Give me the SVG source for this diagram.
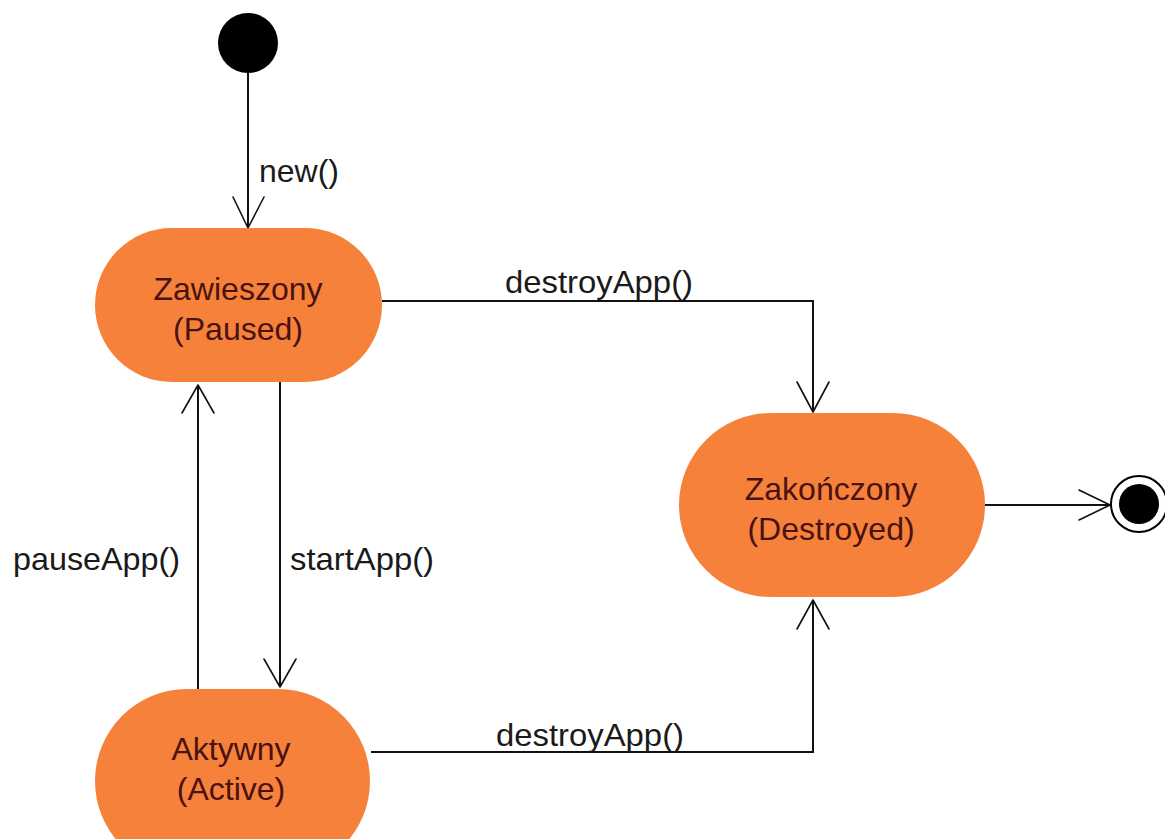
<svg xmlns="http://www.w3.org/2000/svg" width="1165" height="839" viewBox="0 0 1165 839">
<defs>
<style>
.state{fill:#F6813A;}
.st{font-family:"Liberation Sans",Arial,sans-serif;font-size:32px;fill:#4a1212;text-anchor:middle;}
.lbl{font-family:"Liberation Sans",Arial,sans-serif;font-size:32px;fill:#1a1a1a;}
.edge{fill:none;stroke:#111;stroke-width:2;}
.head{fill:none;stroke:#111;stroke-width:1.6;stroke-linecap:round;stroke-linejoin:round;}
</style>
</defs>
<rect width="1165" height="839" fill="#ffffff"/>
<g id="connectors">
  <g id="e-new">
    <line class="edge" x1="248" y1="72" x2="248" y2="228"/>
    <polyline class="head" points="233,197 248,228 264,197"/>
    <text class="lbl" x="259" y="182">new()</text>
  </g>
  <g id="e-destroy1">
    <polyline class="edge" points="382,301 813,301 813,412"/>
    <polyline class="head" points="797,382 813,412 829,382"/>
    <text class="lbl" x="505" y="293" textLength="188" lengthAdjust="spacingAndGlyphs">destroyApp()</text>
  </g>
  <g id="e-start">
    <line class="edge" x1="280" y1="382" x2="280" y2="687"/>
    <polyline class="head" points="264,659 280,687 296,659"/>
    <text class="lbl" x="290" y="570" textLength="144" lengthAdjust="spacingAndGlyphs">startApp()</text>
  </g>
  <g id="e-pause">
    <line class="edge" x1="198" y1="689" x2="198" y2="385"/>
    <polyline class="head" points="182,413 198,385 214,413"/>
    <text class="lbl" x="13" y="570" textLength="167" lengthAdjust="spacingAndGlyphs">pauseApp()</text>
  </g>
  <g id="e-destroy2">
    <polyline class="edge" points="371,752 813,752 813,600"/>
    <polyline class="head" points="797,629 813,600 829,629"/>
    <text class="lbl" x="496" y="746" textLength="188" lengthAdjust="spacingAndGlyphs">destroyApp()</text>
  </g>
  <g id="e-final">
    <line class="edge" x1="985" y1="505" x2="1110" y2="505"/>
    <polyline class="head" points="1079,490 1110,505 1079,520"/>
  </g>
</g>
<g id="initial">
  <circle cx="248" cy="43" r="30" fill="#000"/>
</g>
<g id="paused">
  <rect class="state" x="95" y="228" width="287" height="154" rx="77" ry="77"/>
  <text class="st" x="238" y="300">Zawieszony</text>
  <text class="st" x="238" y="340">(Paused)</text>
</g>
<g id="destroyed">
  <rect class="state" x="679" y="413" width="306" height="184" rx="92" ry="92"/>
  <text class="st" x="831" y="500">Zakończony</text>
  <text class="st" x="831" y="540">(Destroyed)</text>
</g>
<g id="active">
  <rect class="state" x="95" y="689" width="275" height="184" rx="92" ry="92"/>
  <text class="st" x="231" y="760">Aktywny</text>
  <text class="st" x="231" y="800">(Active)</text>
</g>
<g id="final">
  <circle cx="1139" cy="504" r="28" fill="#fff" stroke="#000" stroke-width="2"/>
  <circle cx="1139" cy="504" r="20" fill="#000"/>
</g>
</svg>
